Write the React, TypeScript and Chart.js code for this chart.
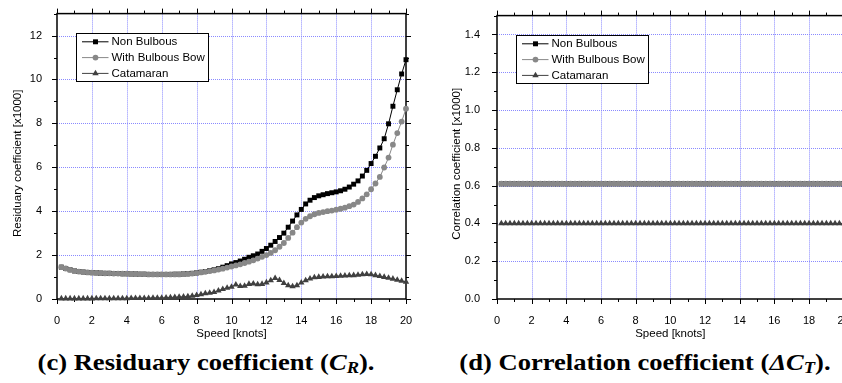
import React, { useEffect, useRef } from 'react';
import { Chart, registerables } from 'chart.js';
Chart.register(...registerables);

// ---------- DATA ----------
const speeds = [
  0.25, 0.5, 0.75, 1, 1.25, 1.5, 1.75, 2, 2.25, 2.5,
  2.75, 3, 3.25, 3.5, 3.75, 4, 4.25, 4.5, 4.75, 5,
  5.25, 5.5, 5.75, 6, 6.25, 6.5, 6.75, 7, 7.25, 7.5,
  7.75, 8, 8.25, 8.5, 8.75, 9, 9.25, 9.5, 9.75, 10,
  10.25, 10.5, 10.75, 11, 11.25, 11.5, 11.75, 12, 12.25, 12.5,
  12.75, 13, 13.25, 13.5, 13.75, 14, 14.25, 14.5, 14.75, 15,
  15.25, 15.5, 15.75, 16, 16.25, 16.5, 16.75, 17, 17.25, 17.5,
  17.75, 18, 18.25, 18.5, 18.75, 19, 19.25, 19.5, 19.75, 20,
];

// (c) Residuary coefficient [x1000]
const nonBulbousCR = [
  1.45, 1.39, 1.33, 1.28, 1.25, 1.23, 1.21, 1.2, 1.19, 1.18,
  1.17, 1.17, 1.16, 1.16, 1.15, 1.15, 1.14, 1.14, 1.13, 1.13,
  1.12, 1.12, 1.12, 1.12, 1.12, 1.12, 1.13, 1.13, 1.14, 1.15,
  1.17, 1.19, 1.22, 1.25, 1.29, 1.33, 1.38, 1.45, 1.52, 1.6,
  1.66, 1.73, 1.81, 1.9, 1.97, 2.05, 2.17, 2.3, 2.45, 2.62,
  2.8, 3.0, 3.27, 3.55, 3.83, 4.08, 4.33, 4.5, 4.62, 4.7,
  4.75, 4.8, 4.84, 4.88, 4.93, 5.0, 5.1, 5.23, 5.38, 5.6,
  5.86, 6.17, 6.5, 6.88, 7.3, 7.98, 8.78, 9.53, 10.25, 10.9,
];
const withBulbousCR = [
  1.45, 1.39, 1.33, 1.28, 1.25, 1.23, 1.21, 1.2, 1.19, 1.18,
  1.17, 1.17, 1.16, 1.16, 1.15, 1.15, 1.14, 1.14, 1.13, 1.13,
  1.12, 1.12, 1.12, 1.12, 1.12, 1.12, 1.12, 1.12, 1.13, 1.14,
  1.16, 1.18, 1.21, 1.24, 1.27, 1.3, 1.34, 1.38, 1.43, 1.48,
  1.53, 1.58, 1.64, 1.7, 1.76, 1.84, 1.92, 2.0, 2.1, 2.22,
  2.38, 2.55, 2.78, 3.02, 3.27, 3.48, 3.65, 3.77, 3.86, 3.92,
  3.96, 4.0, 4.03, 4.07, 4.11, 4.16, 4.23, 4.3, 4.42, 4.58,
  4.77, 5.0, 5.26, 5.56, 5.99, 6.44, 7.03, 7.56, 8.08, 8.67,
];
const catamaranCR = [
  0.02, 0.02, 0.02, 0.02, 0.02, 0.02, 0.02, 0.02, 0.03, 0.03,
  0.03, 0.03, 0.03, 0.03, 0.03, 0.03, 0.04, 0.04, 0.04, 0.04,
  0.04, 0.05, 0.05, 0.05, 0.06, 0.07, 0.08, 0.09, 0.1, 0.12,
  0.14, 0.17, 0.21, 0.25, 0.28, 0.31, 0.38, 0.45, 0.5, 0.55,
  0.65, 0.58, 0.6, 0.68, 0.7, 0.66, 0.68, 0.75, 0.85, 0.95,
  0.86, 0.72, 0.62, 0.57, 0.62, 0.74, 0.85, 0.93, 0.98, 1.0,
  1.02, 1.03, 1.03, 1.04, 1.05, 1.06, 1.07, 1.08, 1.1, 1.12,
  1.13, 1.12, 1.08, 1.04, 1.0, 0.96, 0.92, 0.87, 0.82, 0.78,
];

// (d) Correlation coefficient [x1000]
const nonBulbousCT = [
  0.61, 0.61, 0.61, 0.61, 0.61, 0.61, 0.61, 0.61, 0.61, 0.61,
  0.61, 0.61, 0.61, 0.61, 0.61, 0.61, 0.61, 0.61, 0.61, 0.61,
  0.61, 0.61, 0.61, 0.61, 0.61, 0.61, 0.61, 0.61, 0.61, 0.61,
  0.61, 0.61, 0.61, 0.61, 0.61, 0.61, 0.61, 0.61, 0.61, 0.61,
  0.61, 0.61, 0.61, 0.61, 0.61, 0.61, 0.61, 0.61, 0.61, 0.61,
  0.61, 0.61, 0.61, 0.61, 0.61, 0.61, 0.61, 0.61, 0.61, 0.61,
  0.61, 0.61, 0.61, 0.61, 0.61, 0.61, 0.61, 0.61, 0.61, 0.61,
  0.61, 0.61, 0.61, 0.61, 0.61, 0.61, 0.61, 0.61, 0.61, 0.61,
];
const withBulbousCT = [
  0.61, 0.61, 0.61, 0.61, 0.61, 0.61, 0.61, 0.61, 0.61, 0.61,
  0.61, 0.61, 0.61, 0.61, 0.61, 0.61, 0.61, 0.61, 0.61, 0.61,
  0.61, 0.61, 0.61, 0.61, 0.61, 0.61, 0.61, 0.61, 0.61, 0.61,
  0.61, 0.61, 0.61, 0.61, 0.61, 0.61, 0.61, 0.61, 0.61, 0.61,
  0.61, 0.61, 0.61, 0.61, 0.61, 0.61, 0.61, 0.61, 0.61, 0.61,
  0.61, 0.61, 0.61, 0.61, 0.61, 0.61, 0.61, 0.61, 0.61, 0.61,
  0.61, 0.61, 0.61, 0.61, 0.61, 0.61, 0.61, 0.61, 0.61, 0.61,
  0.61, 0.61, 0.61, 0.61, 0.61, 0.61, 0.61, 0.61, 0.61, 0.61,
];
const catamaranCT = [
  0.4, 0.4, 0.4, 0.4, 0.4, 0.4, 0.4, 0.4, 0.4, 0.4,
  0.4, 0.4, 0.4, 0.4, 0.4, 0.4, 0.4, 0.4, 0.4, 0.4,
  0.4, 0.4, 0.4, 0.4, 0.4, 0.4, 0.4, 0.4, 0.4, 0.4,
  0.4, 0.4, 0.4, 0.4, 0.4, 0.4, 0.4, 0.4, 0.4, 0.4,
  0.4, 0.4, 0.4, 0.4, 0.4, 0.4, 0.4, 0.4, 0.4, 0.4,
  0.4, 0.4, 0.4, 0.4, 0.4, 0.4, 0.4, 0.4, 0.4, 0.4,
  0.4, 0.4, 0.4, 0.4, 0.4, 0.4, 0.4, 0.4, 0.4, 0.4,
  0.4, 0.4, 0.4, 0.4, 0.4, 0.4, 0.4, 0.4, 0.4, 0.4,
];

const seriesLabels = ['Non Bulbous', 'With Bulbous Bow', 'Catamaran'];
const xTitle = 'Speed [knots]';
const yTitleC = 'Residuary coefficient [x1000]';
const yTitleD = 'Correlation coefficient [x1000]';

// ---------- STYLE ----------
const SANS = "'Liberation Sans', Arial, Helvetica, sans-serif";
const SERIF = "'Liberation Serif', 'Times New Roman', Times, serif";
const GRID = '#8a8aff';
const COLORS = ['#000000', '#888888', '#404040'];
const STYLES = ['rect', 'circle', 'triangle'];
const RADII = [3.5, 2.9, 3.7];

function drawMarker(ctx: CanvasRenderingContext2D, style: string, x: number, y: number, r: number) {
  ctx.beginPath();
  if (style === 'rect') {
    const s = Math.SQRT1_2 * r;
    ctx.rect(x - s, y - s, 2 * s, 2 * s);
  } else if (style === 'circle') {
    ctx.arc(x, y, r, 0, Math.PI * 2);
  } else {
    let rad = 0;
    ctx.moveTo(x + Math.sin(rad) * r, y - Math.cos(rad) * r);
    rad += (2 * Math.PI) / 3;
    ctx.lineTo(x + Math.sin(rad) * r, y - Math.cos(rad) * r);
    rad += (2 * Math.PI) / 3;
    ctx.lineTo(x + Math.sin(rad) * r, y - Math.cos(rad) * r);
    ctx.closePath();
  }
  ctx.fill();
}

const framePlugin = {
  id: 'frameTicks',
  beforeDatasetsDraw(chart: any, _args: any, opts: any) {
    const { ctx, chartArea: a, scales } = chart;
    const xs = scales.x;
    const ys = scales.y;
    const majors = (s: any) => s.ticks.map((t: any) => t.value);
    const minors = (s: any) => {
      const m = majors(s);
      const out: number[] = [];
      const step = m[1] - m[0];
      for (let i = 0; i < m.length; i++) {
        const v = m[i] + step / 2;
        if (v <= s.max + 1e-9) out.push(v);
      }
      return out;
    };
    ctx.save();
    // dotted grid
    ctx.strokeStyle = GRID;
    ctx.lineWidth = 1;
    ctx.setLineDash([1, 1]);
    for (const v of majors(xs)) {
      const px = Math.round(xs.getPixelForValue(v)) + 0.5;
      if (px <= a.left + 1 || px >= a.right - 1) continue;
      ctx.beginPath();
      ctx.moveTo(px, a.top);
      ctx.lineTo(px, a.bottom);
      ctx.stroke();
    }
    for (const v of majors(ys)) {
      const py = Math.round(ys.getPixelForValue(v)) + 0.5;
      if (py <= a.top + 1 || py >= a.bottom - 1) continue;
      ctx.beginPath();
      ctx.moveTo(a.left, py);
      ctx.lineTo(a.right, py);
      ctx.stroke();
    }
    ctx.setLineDash([]);
    // ticks
    ctx.strokeStyle = '#000';
    ctx.lineWidth = 1;
    const tickX = (v: number, len: number) => {
      const px = Math.round(xs.getPixelForValue(v)) + 0.5;
      ctx.beginPath();
      ctx.moveTo(px, a.bottom);
      ctx.lineTo(px, a.bottom + len);
      ctx.moveTo(px, a.top);
      ctx.lineTo(px, a.top - len);
      ctx.stroke();
    };
    const tickY = (v: number, len: number) => {
      const py = Math.round(ys.getPixelForValue(v)) + 0.5;
      ctx.beginPath();
      ctx.moveTo(a.left, py);
      ctx.lineTo(a.left - len, py);
      ctx.moveTo(a.right, py);
      ctx.lineTo(a.right + len, py);
      ctx.stroke();
    };
    majors(xs).forEach((v: number) => tickX(v, 5));
    minors(xs).forEach((v: number) => tickX(v, 3));
    majors(ys).forEach((v: number) => tickY(v, 5));
    minors(ys).forEach((v: number) => tickY(v, 3));
    // frame
    ctx.lineWidth = 1.5;
    ctx.strokeRect(a.left, a.top, a.right - a.left, a.bottom - a.top);
    // y axis title (vertical)
    ctx.translate(opts.titleX, (a.top + a.bottom) / 2 + opts.titleShift);
    ctx.rotate(-Math.PI / 2);
    ctx.fillStyle = '#000';
    ctx.font = `11.5px ${SANS}`;
    ctx.textAlign = 'center';
    ctx.textBaseline = 'middle';
    ctx.fillText(opts.title, 0, 0);
    ctx.restore();
  },
};

const legendPlugin = {
  id: 'boxLegend',
  afterDatasetsDraw(chart: any) {
    const { ctx, chartArea: a } = chart;
    const bx = Math.round(a.left + 19) + 0.5;
    const by = Math.round(a.top + 19) + 0.5;
    const bw = 132;
    const bh = 48;
    ctx.save();
    ctx.fillStyle = '#fff';
    ctx.fillRect(bx, by, bw, bh);
    ctx.strokeStyle = '#000';
    ctx.lineWidth = 1;
    ctx.strokeRect(bx, by, bw, bh);
    chart.data.datasets.forEach((ds: any, i: number) => {
      const y = by + 8.3 + i * 15.8;
      ctx.strokeStyle = ds.borderColor;
      ctx.lineWidth = 1;
      ctx.beginPath();
      ctx.moveTo(bx + 5.5, y);
      ctx.lineTo(bx + 32, y);
      ctx.stroke();
      ctx.fillStyle = ds.pointBackgroundColor;
      drawMarker(ctx, ds.pointStyle, bx + 19, y, ds.pointRadius);
      ctx.fillStyle = '#000';
      ctx.font = `11.5px ${SANS}`;
      ctx.textBaseline = 'middle';
      ctx.textAlign = 'left';
      ctx.fillText(ds.label, bx + 35, y + 0.5);
    });
    ctx.restore();
  },
};

function makeDatasets(series: number[][]) {
  return series.map((vals, i) => ({
    label: seriesLabels[i],
    data: speeds.map((s, j) => ({ x: s, y: vals[j] })),
    borderColor: COLORS[i],
    backgroundColor: COLORS[i],
    borderWidth: 1,
    pointStyle: STYLES[i],
    pointRadius: RADII[i],
    pointBorderWidth: 0,
    pointBackgroundColor: COLORS[i],
    pointBorderColor: COLORS[i],
    tension: 0,
    clip: false,
    order: i === 0 ? 2 : i === 1 ? 1 : 0,
  }));
}

function makeConfig(p: {
  series: number[][];
  yMax: number;
  yStep: number;
  yTitle: string;
  yWidth: number;
  yTitleX: number;
  yTitleShift: number;
  yTickPad: number;
  padTop: number;
  padRight: number;
  decimals: number;
}) {
  const tickFont = { family: SANS, size: 11 };
  const titleFont = { family: SANS, size: 11.5 };
  return {
    type: 'line' as const,
    data: { datasets: makeDatasets(p.series) },
    options: {
      animation: false,
      responsive: false,
      events: [],
      layout: { padding: { top: p.padTop, right: p.padRight, left: 0, bottom: 0 } },
      plugins: {
        legend: { display: false },
        tooltip: { enabled: false },
        frameTicks: { title: p.yTitle, titleX: p.yTitleX, titleShift: p.yTitleShift },
      },
      scales: {
        x: {
          type: 'linear',
          min: 0,
          max: 20,
          grid: { display: false },
          border: { display: false },
          ticks: {
            stepSize: 2,
            padding: 7,
            color: '#000',
            font: tickFont,
            maxRotation: 0,
            autoSkip: false,
            includeBounds: false,
          },
          title: { display: true, text: xTitle, color: '#000', font: titleFont, padding: { top: 0, bottom: 4 } },
          afterFit: (s: any) => {
            s.height = 46;
          },
        },
        y: {
          type: 'linear',
          min: 0,
          max: p.yMax,
          grid: { display: false },
          border: { display: false },
          ticks: {
            stepSize: p.yStep,
            padding: p.yTickPad,
            color: '#000',
            font: tickFont,
            autoSkip: false,
            includeBounds: false,
            callback: (v: any) => Number(v).toFixed(p.decimals),
          },
          title: { display: false },
          afterFit: (s: any) => {
            s.width = p.yWidth;
          },
        },
      },
    },
    plugins: [framePlugin, legendPlugin],
  };
}

function ChartCanvas(props: { config: any; width: number; height: number }) {
  const ref = useRef<HTMLCanvasElement | null>(null);
  useEffect(() => {
    if (!ref.current) return;
    const chart = new Chart(ref.current, props.config);
    return () => chart.destroy();
  }, []);
  return (
    <canvas
      ref={ref}
      width={props.width}
      height={props.height}
      style={{ width: props.width, height: props.height, display: 'block' }}
    />
  );
}

export default function App() {
  const configC = makeConfig({
    series: [nonBulbousCR, withBulbousCR, catamaranCR],
    yMax: 13,
    yStep: 2,
    yTitle: yTitleC,
    yWidth: 57,
    yTitleX: 18,
    yTitleShift: 7,
    yTickPad: 7,
    padTop: 12,
    padRight: 15,
    decimals: 0,
  });
  const configD = makeConfig({
    series: [nonBulbousCT, withBulbousCT, catamaranCT],
    yMax: 1.5,
    yStep: 0.2,
    yTitle: yTitleD,
    yWidth: 76,
    yTitleX: 36,
    yTitleShift: 6.5,
    yTickPad: 9,
    padTop: 10,
    padRight: 17.3,
    decimals: 1,
  });
  const capStyle: React.CSSProperties = {
    position: 'absolute',
    top: 351.4,
    width: 420,
    textAlign: 'center',
    fontFamily: SERIF,
    fontWeight: 'bold',
    fontSize: 23,
    lineHeight: '23px',
    whiteSpace: 'nowrap',
    color: '#000',
    transform: 'scaleX(1.155)',
    transformOrigin: '50% 50%',
  };
  const subStyle: React.CSSProperties = { fontSize: 16, position: 'relative', top: 3 };
  return (
    <div
      style={{
        position: 'absolute',
        left: 0,
        top: 0,
        width: 842,
        height: 383,
        overflow: 'hidden',
        background: '#fff',
      }}
    >
      <div style={{ position: 'absolute', left: 0, top: 0 }}>
        <ChartCanvas config={configC} width={421} height={345} />
      </div>
      <div style={{ position: 'absolute', left: 421, top: 0 }}>
        <ChartCanvas config={configD} width={440} height={345} />
      </div>
      <div style={{ ...capStyle, left: 205.5 - 210 }}>
        (c) Residuary coefficient (<i>C<span style={subStyle}>R</span></i>).
      </div>
      <div style={{ ...capStyle, left: 644.8 - 210 }}>
        (d) Correlation coefficient (<i>ΔC<span style={subStyle}>T</span></i>).
      </div>
    </div>
  );
}
